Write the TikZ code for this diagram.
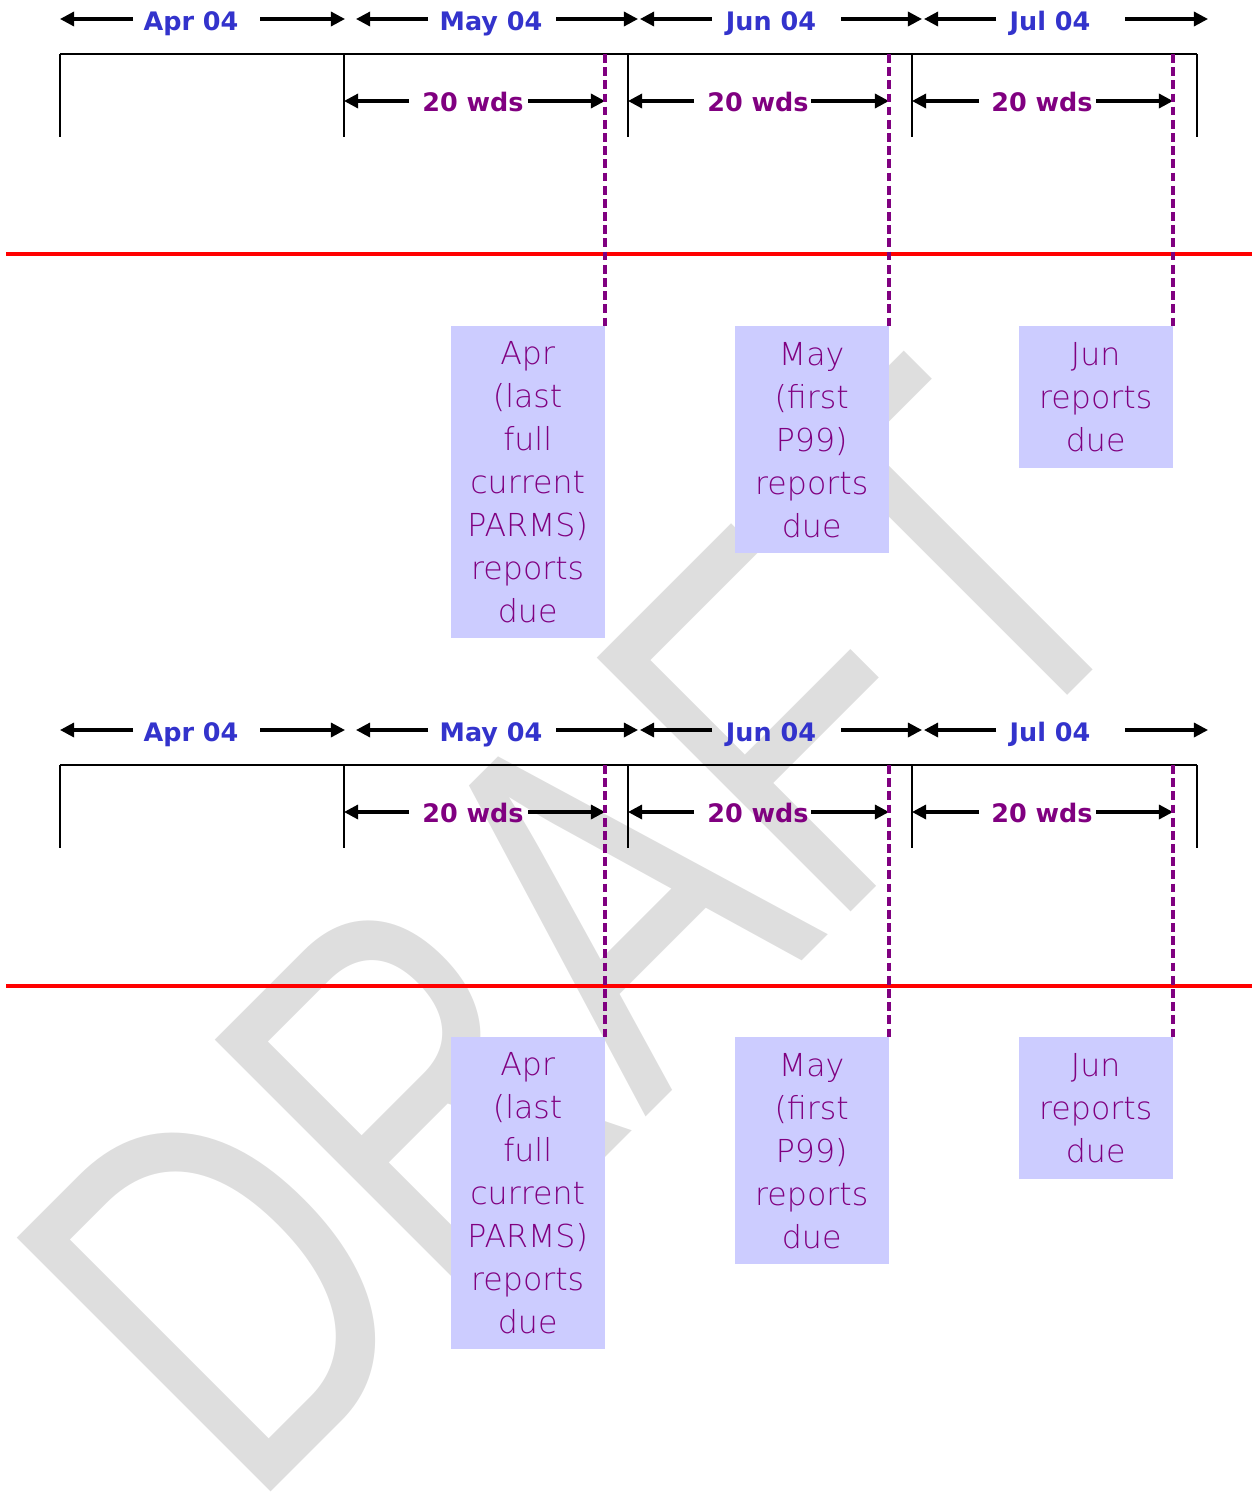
\documentclass[tikz,border=0pt]{standalone}
\usepackage{fontspec}
\setmainfont{DejaVu Sans}
\newfontfamily\thinfont{DejaVu Sans ExtraLight}
\newfontfamily\wmfont{Liberation Sans}
\usetikzlibrary{arrows.meta}
\definecolor{monthblue}{RGB}{51,51,204}
\definecolor{purp}{RGB}{128,0,128}
\definecolor{boxfill}{RGB}{204,204,255}
\definecolor{wmgray}{RGB}{222,222,222}
\tikzset{
  monthlbl/.style={font=\fontsize{14.5}{16}\selectfont\bfseries, text=monthblue, inner sep=0, anchor=base},
  wdslbl/.style={font=\fontsize{14.5}{16}\selectfont\bfseries, text=purp, inner sep=0, anchor=base},
  arr/.style={line width=1.8pt, -{Triangle[length=8pt,width=8pt]}},
  frame/.style={line width=1pt},
  duebox/.style={fill=boxfill, text=purp, inner sep=0, align=center,
    font=\thinfont\fontsize{18}{24.5}\selectfont, minimum width=3.08cm, anchor=north east},
  dline/.style={purp, line width=2pt, dash pattern=on 5pt off 2.5pt},
  redline/.style={red, line width=2.2pt},
}
\begin{document}
\begin{tikzpicture}[x=0.02cm,y=-0.02cm]
\useasboundingbox (0,0) rectangle (1256,1495);
% watermark
\begin{scope}
  \clip (0,0) rectangle (1256,1495);
  \node[rotate=45, anchor=base west, inner sep=0, text=wmgray,
        font=\wmfont\fontsize{297}{300}\selectfont] (wm) at (248,1515) {\scalebox{0.745}[1]{DRAFT}};
\end{scope}
\foreach \s/\dy/\ry in {t/0/254, u/711/275} {
\begin{scope}[shift={(0,\dy)}]
  % month row
  \node[monthlbl] (\s-apr) at (191,30) {Apr 04};
  \node[monthlbl] (\s-may) at (491,30) {May 04};
  \node[monthlbl] (\s-jun) at (771,30) {Jun 04};
  \node[monthlbl] (\s-jul) at (1050,30) {Jul 04};
  \coordinate (\s-a0) at (60,19);   \coordinate (\s-a1) at (133,19);
  \coordinate (\s-a2) at (260,19);  \coordinate (\s-a3) at (345,19);
  \coordinate (\s-b0) at (356,19);  \coordinate (\s-b1) at (428,19);
  \coordinate (\s-b2) at (556,19);  \coordinate (\s-b3) at (638,19);
  \coordinate (\s-c0) at (640,19);  \coordinate (\s-c1) at (712,19);
  \coordinate (\s-c2) at (841,19);  \coordinate (\s-c3) at (922,19);
  \coordinate (\s-e0) at (924,19);  \coordinate (\s-e1) at (996,19);
  \coordinate (\s-e2) at (1125,19); \coordinate (\s-e3) at (1208,19);
  \draw[arr] (\s-a1) -- (\s-a0); \draw[arr] (\s-a2) -- (\s-a3);
  \draw[arr] (\s-b1) -- (\s-b0); \draw[arr] (\s-b2) -- (\s-b3);
  \draw[arr] (\s-c1) -- (\s-c0); \draw[arr] (\s-c2) -- (\s-c3);
  \draw[arr] (\s-e1) -- (\s-e0); \draw[arr] (\s-e2) -- (\s-e3);
  % frame
  \coordinate (\s-t0) at (60,54);   \coordinate (\s-t1) at (344,54);
  \coordinate (\s-t2) at (628,54);  \coordinate (\s-t3) at (912,54);
  \coordinate (\s-t4) at (1197,54);
  \draw[frame] (\s-t0) -- (\s-t4);
  \foreach \k in {0,...,4} { \draw[frame] (\s-t\k) -- ++(0,83); }
  % 20 wds
  \node[wdslbl] (\s-w1) at (473,111) {20 wds};
  \node[wdslbl] (\s-w2) at (758,111) {20 wds};
  \node[wdslbl] (\s-w3) at (1042,111) {20 wds};
  \coordinate (\s-p0) at (344,101); \coordinate (\s-p1) at (409,101);
  \coordinate (\s-p2) at (528,101); \coordinate (\s-p3) at (605,101);
  \coordinate (\s-q0) at (628,101); \coordinate (\s-q1) at (694,101);
  \coordinate (\s-q2) at (811,101); \coordinate (\s-q3) at (889,101);
  \coordinate (\s-r0) at (912,101); \coordinate (\s-r1) at (979,101);
  \coordinate (\s-r2) at (1096,101); \coordinate (\s-r3) at (1173,101);
  \draw[arr] (\s-p1) -- (\s-p0); \draw[arr] (\s-p2) -- (\s-p3);
  \draw[arr] (\s-q1) -- (\s-q0); \draw[arr] (\s-q2) -- (\s-q3);
  \draw[arr] (\s-r1) -- (\s-r0); \draw[arr] (\s-r2) -- (\s-r3);
  % red line
  \coordinate (\s-rl) at (6,\ry); \coordinate (\s-rr) at (1252,\ry);
  \draw[redline] (\s-rl) -- (\s-rr);
  % boxes
  \node[duebox, minimum height=6.24cm] (\s-box1) at (605,326)
    {Apr\\(last\\full\\current\\PARMS)\\reports\\due};
  \node[duebox, minimum height=4.54cm] (\s-box2) at (889,326)
    {May\\(first\\P99)\\reports\\due};
  \node[duebox, minimum height=2.84cm] (\s-box3) at (1173,326)
    {Jun\\reports\\due};
  \coordinate (\s-d1) at (605,54); \coordinate (\s-d2) at (889,54);
  \coordinate (\s-d3) at (1173,54);
  \draw[dline] (\s-d1) -- (\s-box1.north east);
  \draw[dline] (\s-d2) -- (\s-box2.north east);
  \draw[dline] (\s-d3) -- (\s-box3.north east);
\end{scope}
}
\end{tikzpicture}
\end{document}
